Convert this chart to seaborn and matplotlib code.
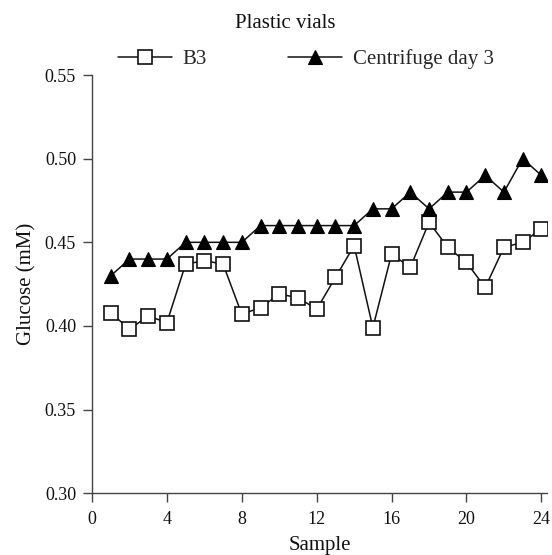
import numpy as np
import pandas as pd
import matplotlib
matplotlib.use("Agg")
import matplotlib.pyplot as plt
import seaborn as sns

samples = list(range(1, 25))
b3 = [0.408, 0.398, 0.406, 0.402, 0.437, 0.439, 0.437, 0.407, 0.411, 0.419,
      0.417, 0.410, 0.429, 0.448, 0.399, 0.443, 0.435, 0.462, 0.447, 0.438,
      0.423, 0.447, 0.450, 0.458]
centrifuge = [0.43, 0.44, 0.44, 0.44, 0.45, 0.45, 0.45, 0.45, 0.46, 0.46,
              0.46, 0.46, 0.46, 0.46, 0.47, 0.47, 0.48, 0.47, 0.48, 0.48,
              0.49, 0.48, 0.50, 0.49]
series_names = ["B3", "Centrifuge day 3"]
title = "Plastic vials"
x_ticks = [0, 4, 8, 12, 16, 20, 24]
y_ticks = [0.30, 0.35, 0.40, 0.45, 0.50, 0.55]

sns.set_theme(style="ticks")
plt.rcParams['font.family'] = ['Liberation Serif', 'DejaVu Serif']

fig = plt.figure(figsize=(5.52, 5.55), dpi=100)
ax = fig.add_axes([92 / 552, 1 - 493.3 / 555, (547 - 92) / 552, (493.3 - 75) / 555])

df = pd.DataFrame({"Sample": samples, "B3": b3, "Centrifuge": centrifuge})

sns.lineplot(data=df, x="Sample", y="B3", ax=ax, color="#111111", lw=1.1,
             marker="s", markersize=9.5, markerfacecolor="white",
             markeredgecolor="#111111", markeredgewidth=1.2, label=series_names[0])
sns.lineplot(data=df, x="Sample", y="Centrifuge", ax=ax, color="#111111", lw=1.1,
             marker="^", markersize=10.5, markerfacecolor="black",
             markeredgecolor="black", markeredgewidth=0.8, label=series_names[1])

ax.set_xlim(0, 24.3)
ax.set_ylim(0.30, 0.55)
ax.set_xticks(x_ticks)
ax.set_xticklabels([str(t) for t in x_ticks])
ax.set_yticks(y_ticks)
ax.set_yticklabels([f"{t:.2f}" for t in y_ticks])
ax.tick_params(axis="both", direction="out", length=6.5, width=1.0, color="#444444",
               labelsize=13, labelcolor="#111111", pad=5)
ax.tick_params(axis="x", pad=6)
for s in ["top", "right"]:
    ax.spines[s].set_visible(False)
for s in ["left", "bottom"]:
    ax.spines[s].set_color("#444444")
    ax.spines[s].set_linewidth(1.0)

ax.set_xlabel("Sample", fontsize=15, color="#111111", labelpad=6)
ax.set_ylabel("Glucose (mM)", fontsize=15, color="#111111", labelpad=6)

fig.text(285.5 / 552, 1 - 23 / 555, title, ha="center", va="center",
         fontsize=15, color="#111111")

leg = ax.legend(loc="center", bbox_to_anchor=(306 / 552, 1 - 59 / 555),
                bbox_transform=fig.transFigure, ncol=2, frameon=False,
                fontsize=15, handlelength=2.6, handletextpad=0.5,
                columnspacing=3.9, borderpad=0)

fig.savefig("out.png", dpi=100)
